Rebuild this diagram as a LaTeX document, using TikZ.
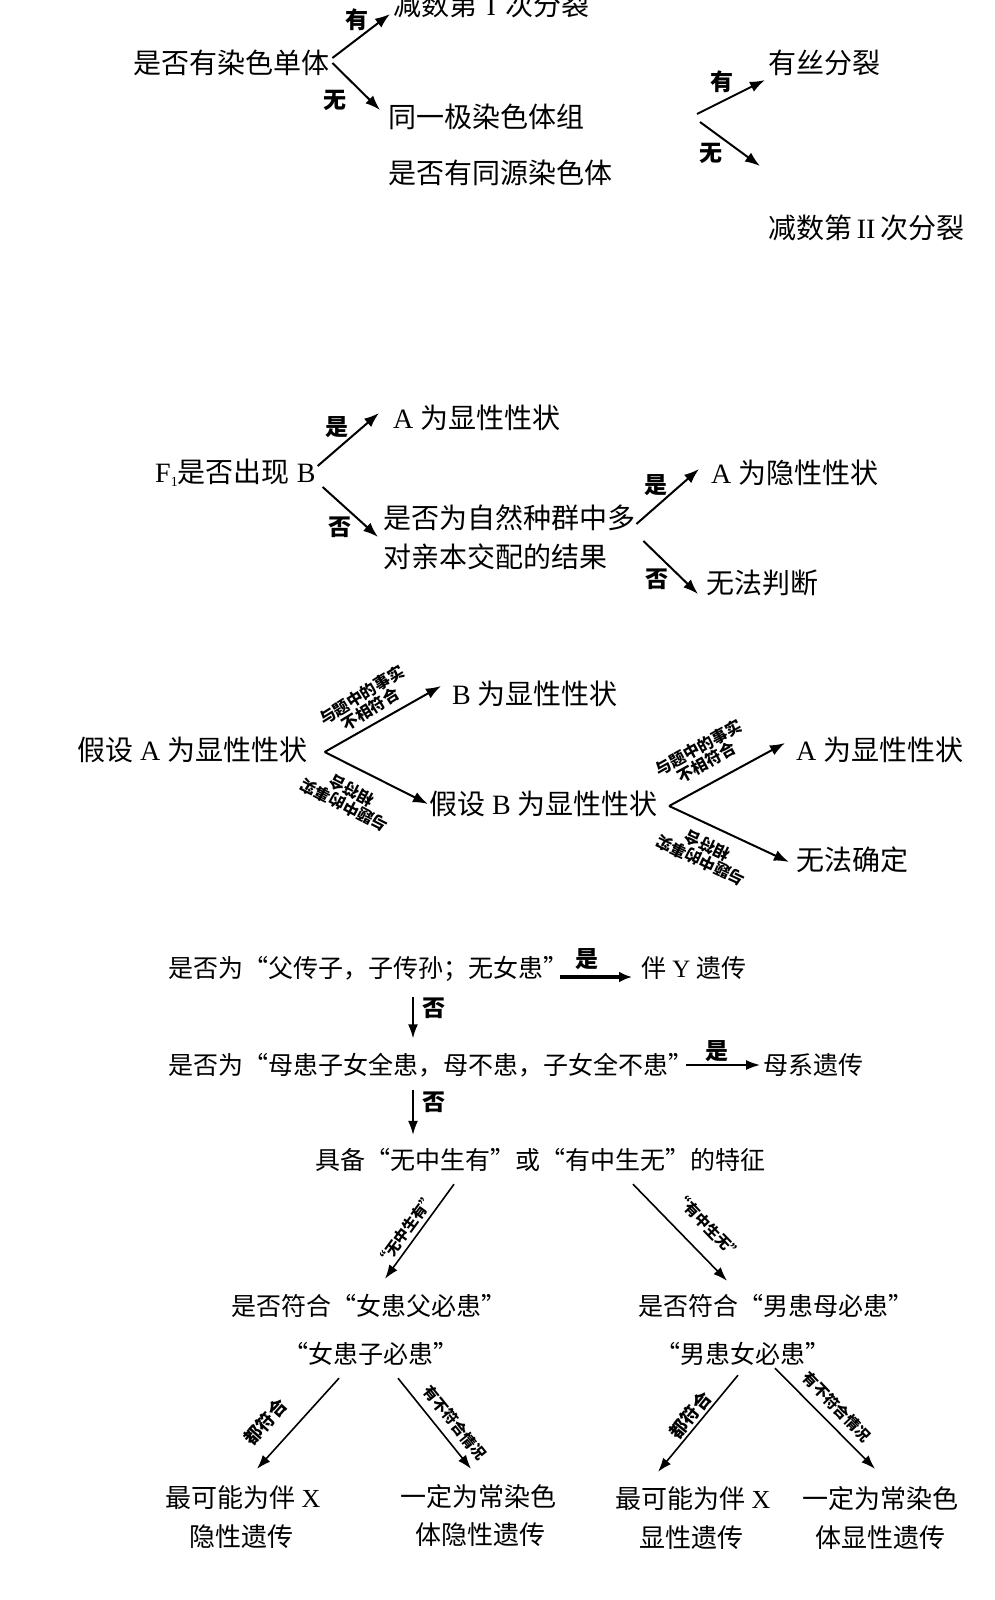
\documentclass[tikz,border=0pt]{standalone}
\usepackage{fontspec}
\setmainfont{Liberation Serif}
\newfontfamily\cjk{Noto Sans CJK SC}
\newfontfamily\latfont{Liberation Serif}
\usetikzlibrary{arrows.meta}
\newcommand\ltn[1]{{\latfont#1}}
\newcommand\qo{\makebox[1em][r]{“}}
\newcommand\qc{\makebox[1em][l]{”}}
\newcommand\subone{\raisebox{-4pt}{\fontsize{14}{14}\selectfont 1}}
\begin{document}
\begin{tikzpicture}[x=1pt,y=-1pt,
  t1/.style={inner sep=0pt, font=\cjk\fontsize{28}{30}\selectfont, text height=23.5pt, text depth=2.2pt},
  t4/.style={inner sep=0pt, font=\cjk\fontsize{25}{28}\selectfont, text height=21pt, text depth=2pt},
  t5/.style={inner sep=0pt, font=\cjk\fontsize{26}{28}\selectfont, text height=21.8pt, text depth=2.1pt},
  yn/.style={inner sep=0pt, font=\cjk\bfseries\fontsize{23}{25}\selectfont},
  sm/.style={inner sep=0pt, font=\cjk\bfseries\fontsize{16}{16.5}\selectfont, align=center},
  smq/.style={inner sep=0pt, font=\cjk\bfseries\fontsize{15}{16}\selectfont},
  smd/.style={inner sep=0pt, font=\cjk\bfseries\fontsize{18}{19}\selectfont},
  arr/.style={line width=2pt, -{Latex[length=15pt,width=11pt]}},
  arr4/.style={line width=1.6pt, -{Latex[length=14pt,width=10pt]}},
  arrthick/.style={line width=3.5pt, -{Latex[length=13pt,width=11pt]}}
]
\fill[white] (0,0) rectangle (994,1600);
\useasboundingbox (0,0) rectangle (994,1600);

% ---------- Section 1 ----------
\node[t1, anchor=west] (s1top) at (393,5) {减数第\makebox[1em]{\latfont I}次分裂};
\node[t1, anchor=west] (s1q) at (133,63) {是否有染色单体};
\node[t1, anchor=west] (s1b) at (388,117) {同一极染色体组};
\node[t1, anchor=west] (s1c) at (388,173) {是否有同源染色体};
\node[t1, anchor=west] (s1d) at (768,63) {有丝分裂};
\node[t1, anchor=west] (s1e) at (768,228) {减数第\makebox[1em]{\latfont II}次分裂};
\draw[arr] ([shift={(3,-5)}]s1q.east) -- ([shift={(-3,9)}]s1top.west);
\draw[arr] ([shift={(3,0)}]s1q.east) -- ([shift={(-8,-7)}]s1b.west);
\node[yn] (y1) at (357,20) {有};
\node[yn] (y2) at (335,100) {无};
\coordinate (s1r) at (698,118);
\coordinate (s1rd) at (760,166);
\draw[arr] ([shift={(-1,-4)}]s1r) -- ([shift={(-3,17)}]s1d.west);
\draw[arr] ([shift={(2,4)}]s1r) -- (s1rd);
\node[yn] (y3) at (722,82) {有};
\node[yn] (y4) at (711,153) {无};

% ---------- Section 2 ----------
\node[t1, anchor=west] (s2q) at (155,472) {\ltn{F\subone}是否出现\ltn{\ B}};
\node[t1, anchor=west] (s2a) at (393,418) {\ltn{A\ }为显性性状};
\node[t1, anchor=west] (s2b) at (383,518) {是否为自然种群中多};
\node[t1, anchor=west] (s2c) at (383,557) {对亲本交配的结果};
\node[t1, anchor=west] (s2d) at (711,473) {\ltn{A\ }为隐性性状};
\node[t1, anchor=west] (s2e) at (706,583) {无法判断};
\draw[arr] ([shift={(2,-6)}]s2q.east) -- ([shift={(-14,-5)}]s2a.west);
\draw[arr] ([shift={(7,15)}]s2q.east) -- ([shift={(-5,19)}]s2b.west);
\draw[arr] ([shift={(1,6)}]s2b.east) -- ([shift={(-12,-4)}]s2d.west);
\draw[arr] ([shift={(8,23)}]s2b.east) -- ([shift={(-8,11)}]s2e.west);
\node[yn] (y5) at (337,427) {是};
\node[yn] (y6) at (340,527) {否};
\node[yn] (y7) at (656,485) {是};
\node[yn] (y8) at (657,579) {否};

% ---------- Section 3 ----------
\node[t1, anchor=west] (s3q) at (77,750) {假设\ltn{\ A\ }为显性性状};
\node[t1, anchor=west] (s3a) at (452,694) {\ltn{B\ }为显性性状};
\node[t1, anchor=west] (s3b) at (429,804) {假设\ltn{\ B\ }为显性性状};
\node[t1, anchor=west] (s3c) at (796,750) {\ltn{A\ }为显性性状};
\node[t1, anchor=west] (s3d) at (796,860) {无法确定};
\draw[arr] ([shift={(17,2)}]s3q.east) -- ([shift={(-11,-8)}]s3a.west);
\draw[arr] ([shift={(17,2)}]s3q.east) -- ([shift={(-1,0)}]s3b.west);
\draw[arr] ([shift={(11,2)}]s3b.east) -- ([shift={(-11,-7)}]s3c.west);
\draw[arr] ([shift={(11,2)}]s3b.east) -- ([shift={(-7,2)}]s3d.west);
\node[sm, rotate=32] (m1) at (366,702) {与题中的事实\\不相符合};
\node[sm, rotate=153] (m2) at (348,798) {与题中的事实\\相符合};
\node[sm, rotate=29] (m3) at (702,755) {与题中的事实\\不相符合};
\node[sm, rotate=155] (m4) at (704,853) {与题中的事实\\相符合};

% ---------- Section 4 ----------
\node[t4, anchor=west] (s4a) at (168,968) {是否为\qo 父传子，子传孙；无女患\qc};
\node[t4, anchor=west] (s4b) at (641,968) {伴\ltn{\ Y\ }遗传};
\draw[arrthick] ([shift={(-8,9)}]s4a.east) -- ([shift={(-9,9)}]s4b.west);
\node[yn] (y9) at (587,959) {是};
\node[t4, anchor=west] (s5) at (168,1065) {是否为\qo 母患子女全患，母不患，子女全不患\qc};
\node[t4, anchor=west] (s5b) at (763,1065) {母系遗传};
\draw[arr4] ([shift={(245,17)}]s4a.south west) -- ([shift={(245,-15)}]s5.north west);
\node[yn] (y10) at (434,1008) {否};
\draw[arr4] ([shift={(-7,0)}]s5.east) -- ([shift={(-3,0)}]s5b.west);
\node[yn] (y11) at (717,1051) {是};
\node[t4] (s6) at (540,1160) {具备\qo 无中生有\qc 或\qo 有中生无\qc 的特征};
\draw[arr4] ([shift={(245,13)}]s5.south west) -- ([shift={(-127,-13.5)}]s6.north);
\node[yn] (y12) at (434,1102) {否};

\node[t4] (s7) at (369,1306) {是否符合\qo 女患父必患\qc};
\node[t4] (s7b) at (371,1354) {\qo 女患子必患\qc};
\node[t4] (s8) at (776,1306) {是否符合\qo 男患母必患\qc};
\node[t4] (s8b) at (743,1354) {\qo 男患女必患\qc};
\draw[arr4] ([shift={(-86,12.5)}]s6.south) -- ([shift={(16,-15.5)}]s7.north);
\draw[arr4] ([shift={(93,12.5)}]s6.south) -- ([shift={(-49,-13.5)}]s8.north);
\node[smq, rotate=54] (q1) at (406,1230) {“无中生有”};
\node[smq, rotate=-46] (q2) at (708,1226) {“有中生无”};

\node[t5, anchor=west] (s9) at (165,1498) {最可能为伴\ltn{\ X}};
\node[t5, anchor=west] (s9b) at (189,1537) {隐性遗传};
\node[t5, anchor=west] (s10) at (400,1497) {一定为常染色};
\node[t5, anchor=west] (s10b) at (415,1535) {体隐性遗传};
\node[t5, anchor=west] (s11) at (615,1499) {最可能为伴\ltn{\ X}};
\node[t5, anchor=west] (s11b) at (639,1538) {显性遗传};
\node[t5, anchor=west] (s12) at (802,1499) {一定为常染色};
\node[t5, anchor=west] (s12b) at (815,1538) {体显性遗传};

\draw[arr4] ([shift={(-32,12.5)}]s7b.south) -- ([shift={(92,-17)}]s9.north west);
\draw[arr4] ([shift={(27,12.5)}]s7b.south) -- ([shift={(71,-16)}]s10.north west);
\draw[arr4] ([shift={(-5,9.5)}]s8b.south) -- ([shift={(43,-15)}]s11.north west);
\draw[arr4] ([shift={(32,2.5)}]s8b.south) -- ([shift={(73,-18)}]s12.north west);
\node[smd, rotate=48] (d1) at (265,1422) {都符合};
\node[smq, rotate=-51] (d2) at (455,1423) {有不符合情况};
\node[smd, rotate=51] (d3) at (690,1415) {都符合};
\node[smq, rotate=-46] (d4) at (837,1407) {有不符合情况};
\end{tikzpicture}
\end{document}
